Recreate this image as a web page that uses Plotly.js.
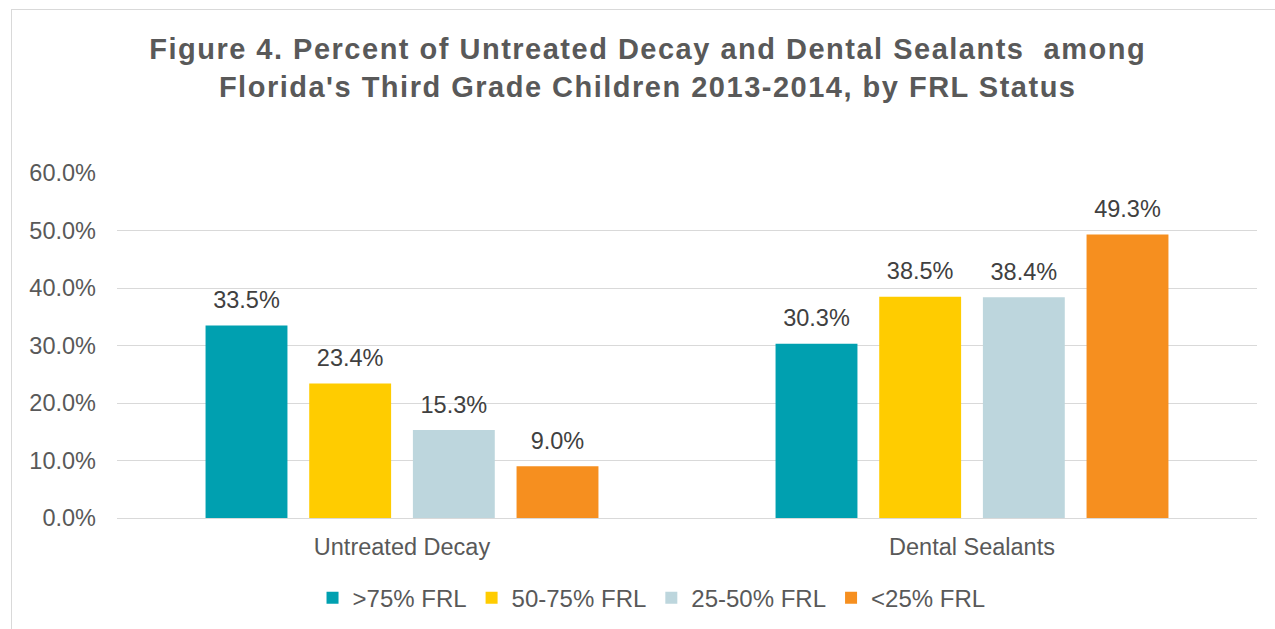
<!DOCTYPE html>
<html>
<head>
<meta charset="utf-8">
<script src="https://cdn.plot.ly/plotly-3.0.1.min.js"></script>
<style>
  html, body { margin: 0; padding: 0; background: #fff; overflow: hidden; }
  #frame { position: absolute; left: 11px; top: 9px; width: 1400px; height: 800px; border: 1px solid #d9d9d9; }
  #chart { position: absolute; left: 0; top: 0; width: 1275px; height: 629px; }
  #chart .gtitle { letter-spacing: 1.5px; }
</style>
</head>
<body>
<div id="frame"></div>
<div id="chart"></div>
<script>
const categories = ["Untreated Decay", "Dental Sealants"];
const seriesNames = [">75% FRL", "50-75% FRL", "25-50% FRL", "<25% FRL"];
const frl75plus = [33.5, 30.3];
const frl50to75 = [23.4, 38.5];
const frl25to50 = [15.3, 38.4];
const frlUnder25 = [9.0, 49.3];
const seriesValues = [frl75plus, frl50to75, frl25to50, frlUnder25];
const seriesColors = ["#00A0B0", "#FFCC00", "#BDD6DD", "#F68F1F"];
const yTicks = [0, 10, 20, 30, 40, 50, 60];

const font = "'Liberation Sans', Arial, sans-serif";
const gap = 0.2725;

const barTraces = seriesNames.map((name, i) => ({
  type: "bar",
  name: name,
  x: categories,
  y: seriesValues[i],
  marker: { color: seriesColors[i] },
  hoverinfo: "x+y+name"
}));

const labelTraces = seriesNames.map((name, i) => ({
  type: "scatter",
  mode: "markers+text",
  name: name,
  x: categories,
  y: seriesValues[i],
  text: seriesValues[i].map(v => v.toFixed(1) + "%"),
  textposition: "top center",
  textfont: { family: font, size: 23.5, color: "#404040" },
  marker: { size: 17, opacity: 0, color: seriesColors[i] },
  cliponaxis: false,
  showlegend: false,
  hoverinfo: "skip"
}));

const layout = {
  width: 1275,
  height: 629,
  paper_bgcolor: "rgba(0,0,0,0)",
  plot_bgcolor: "rgba(0,0,0,0)",
  margin: { l: 117, r: 18, t: 173, b: 111 },
  font: { family: font, color: "#595959" },
  title: {
    text: "<b>Figure 4. Percent of Untreated Decay and Dental Sealants  among<br>Florida's Third Grade Children 2013-2014, by FRL Status</b>",
    font: { family: font, size: 29, color: "#595959" },
    x: 0.508, xanchor: "center", xref: "container",
    y: 0.906, yanchor: "middle", yref: "container"
  },
  barmode: "group",
  bargap: gap,
  bargroupgap: 0.21,
  scattermode: "group",
  scattergap: gap,
  xaxis: {
    type: "category",
    showline: true,
    linecolor: "#d9d9d9",
    linewidth: 1,
    ticks: "",
    ticklabelstandoff: 8,
    tickfont: { family: font, size: 23.5, color: "#595959" },
    fixedrange: true
  },
  yaxis: {
    range: [0, 60],
    tickvals: yTicks,
    ticktext: yTicks.map(v => v.toFixed(1) + "%"),
    showgrid: true,
    gridcolor: "#d9d9d9",
    gridwidth: 1,
    zeroline: false,
    showline: false,
    ticks: "",
    ticklabelstandoff: 20,
    tickfont: { family: font, size: 23.5, color: "#595959" },
    fixedrange: true
  },
  legend: {
    orientation: "h",
    xref: "container", yref: "container",
    x: 0.511, xanchor: "center",
    y: 0.049, yanchor: "middle",
    font: { family: font, size: 24, color: "#595959" },
    itemwidth: 30,
    traceorder: "normal"
  },
  showlegend: true
};

Plotly.newPlot("chart", barTraces.concat(labelTraces), layout, { displayModeBar: false, staticPlot: true });
</script>
</body>
</html>
